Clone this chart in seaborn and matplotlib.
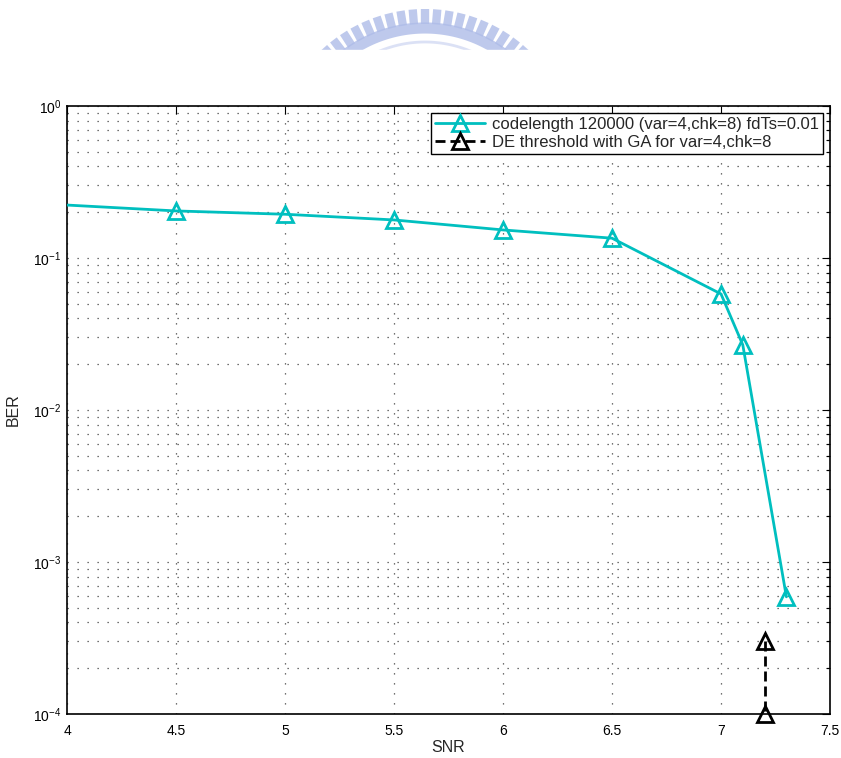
import numpy as np
import pandas as pd
import matplotlib
matplotlib.use("Agg")
import matplotlib.pyplot as plt
import seaborn as sns
from matplotlib.lines import Line2D
from matplotlib.ticker import LogLocator, FixedLocator, NullFormatter

# ---- data ----
snr_sim = [4.0, 4.5, 5.0, 5.5, 6.0, 6.5, 7.0, 7.1, 7.3]
ber_sim = [0.223, 0.204, 0.194, 0.178, 0.153, 0.135, 0.058, 0.0268, 5.9e-4]
snr_de = [7.2, 7.2]
ber_de = [3.0e-4, 1.0e-4]
label_sim = "codelength 120000 (var=4,chk=8) fdTs=0.01"
label_de = "DE threshold with GA for var=4,chk=8"
x_ticks = [4, 4.5, 5, 5.5, 6, 6.5, 7, 7.5]
x_ticklabels = ["4", "4.5", "5", "5.5", "6", "6.5", "7", "7.5"]

sns.set_style("white")
plt.rcParams['font.family'] = ['Liberation Sans', 'DejaVu Sans']
plt.rcParams['mathtext.fontset'] = 'custom'
plt.rcParams['mathtext.rm'] = 'Liberation Sans'
plt.rcParams['mathtext.it'] = 'Liberation Sans:italic'

W, H = 841, 758
fig = plt.figure(figsize=(W / 100, H / 100), dpi=100)
ax = fig.add_axes([67 / W, 44 / H, (830 - 67) / W, (714 - 106) / H])

df_sim = pd.DataFrame({"SNR": snr_sim, "BER": ber_sim})
df_de = pd.DataFrame({"SNR": snr_de, "BER": ber_de})

cyan = "#00BFBF"
dash = (0, (3.6, 1.8))
sns.lineplot(data=df_sim, x="SNR", y="BER", ax=ax, color=cyan, lw=2,
             marker="^", markersize=12, markerfacecolor="none",
             markeredgecolor=cyan, markeredgewidth=2,
             markevery=list(range(1, len(snr_sim))), sort=False,
             estimator=None, errorbar=None, legend=False, zorder=3)
sns.lineplot(data=df_de, x="SNR", y="BER", ax=ax, color="black", lw=2,
             linestyle=dash, marker="^", markersize=12,
             markerfacecolor="none", markeredgecolor="black",
             markeredgewidth=2, sort=False, estimator=None, errorbar=None,
             legend=False, clip_on=False, zorder=4)

ax.set_yscale("log")
ax.set_xlim(4, 7.5)
ax.set_ylim(1e-4, 1)
ax.xaxis.set_major_locator(FixedLocator(x_ticks))
ax.set_xticklabels(x_ticklabels)
ax.yaxis.set_major_locator(LogLocator(base=10, numticks=10))
ax.yaxis.set_minor_locator(LogLocator(base=10, subs=np.arange(2, 10), numticks=20))
ax.yaxis.set_minor_formatter(NullFormatter())

gls = (0, (1, 7))
ax.grid(True, which="major", axis="both", linestyle=gls, color="#444444", lw=0.9)
ax.grid(True, which="minor", axis="y", linestyle=gls, color="#444444", lw=0.9)
ax.set_axisbelow(True)

ax.tick_params(which="both", direction="in", top=True, right=True,
               labelsize=10, colors="black")
ax.tick_params(axis="x", pad=7)
ax.tick_params(axis="y", pad=4)
ax.tick_params(which="major", length=6, width=0.8)
ax.tick_params(which="minor", length=3, width=0.8)
for s in ax.spines.values():
    s.set_color("black")
    s.set_linewidth(1.2)

ax.set_xlabel("SNR", fontsize=11.5, labelpad=2)
ax.set_ylabel("BER", fontsize=11.5, labelpad=9)

handles = [
    Line2D([], [], color=cyan, lw=2, marker="^", markersize=12,
           markerfacecolor="none", markeredgecolor=cyan, markeredgewidth=2),
    Line2D([], [], color="black", lw=2, linestyle=dash, marker="^",
           markersize=12, markerfacecolor="none", markeredgecolor="black",
           markeredgewidth=2),
]
leg = ax.legend(handles, [label_sim, label_de], loc="upper right",
                fontsize=12, frameon=True, fancybox=False, framealpha=1,
                edgecolor="black", borderpad=0.25, handlelength=3.0,
                handletextpad=0.45, labelspacing=0.2, borderaxespad=0.4)
leg.get_frame().set_linewidth(1.0)

# faint logo-like watermark at the top
logo_ax = fig.add_axes([0, 0, 1, 1], zorder=-1)
logo_ax.set_xlim(0, W)
logo_ax.set_ylim(H, 0)
logo_ax.axis("off")
cx, cy = 425, 160
wm = "#aebce8"
for ang in np.linspace(48, 132, 19):
    a = np.deg2rad(ang)
    logo_ax.plot([cx + 136 * np.cos(a), cx + 151 * np.cos(a)],
                 [cy - 136 * np.sin(a), cy - 151 * np.sin(a)],
                 color=wm, lw=6, solid_capstyle="butt", alpha=0.8)
t = np.linspace(np.deg2rad(46), np.deg2rad(134), 120)
logo_ax.plot(cx + 132 * np.cos(t), cy - 132 * np.sin(t), color=wm, lw=8, alpha=0.8)
logo_ax.plot(cx + 118 * np.cos(t[20:100]), cy - 118 * np.sin(t[20:100]),
             color="#d8def4", lw=2, alpha=0.9)
logo_ax.axhspan(50, H, color="white", zorder=5)

fig.savefig("out.png", dpi=100)
